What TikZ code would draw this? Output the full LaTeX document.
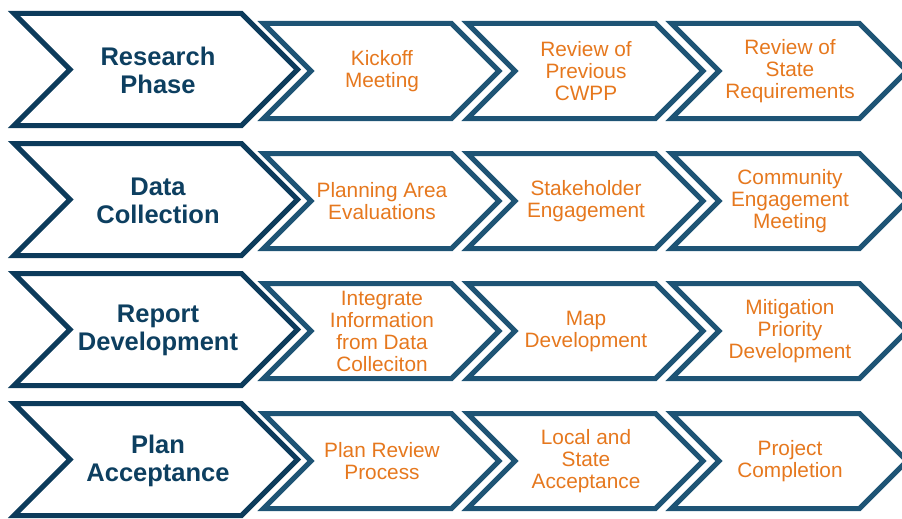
\documentclass[tikz,border=0pt]{standalone}
\usepackage{fontspec}
\setmainfont{Liberation Sans}
\definecolor{navyline}{HTML}{0C3B5B}
\definecolor{steelline}{HTML}{1E5475}
\definecolor{navytext}{HTML}{0D3F60}
\definecolor{orangetext}{HTML}{E6781E}
\tikzset{
  phasechev/.style={draw=navyline, line width=5pt, fill=white, line join=miter},
  stepchev/.style={draw=steelline, line width=5pt, fill=white, line join=miter},
  phaselabel/.style={align=center, text=navytext, font=\fontsize{25.5}{28}\selectfont\bfseries, inner sep=0pt},
  steplabel/.style={align=center, text=orangetext, font=\fontsize{20.8}{22}\selectfont, inner sep=0pt}
}
\begin{document}
\begin{tikzpicture}[x=1pt, y=-1pt]
\useasboundingbox (0,0) rectangle (902,519);
\clip (0,0) rectangle (902,519);
% chevron outlines, four rows
\foreach \r in {0,...,3} {
  \pgfmathsetmacro\cy{69.5+130*\r}
  \pgfmathsetmacro\sy{71+130*\r}
  \foreach \c in {0,1,2} {
    \pgfmathsetmacro\dx{204*\c}
    \draw[stepchev] (263.5+\dx,\sy-47.5) -- (451.5+\dx,\sy-47.5) -- (499+\dx,\sy)
      -- (451.5+\dx,\sy+47.5) -- (263.5+\dx,\sy+47.5) -- (311+\dx,\sy) -- cycle;
  }
  \draw[phasechev] (14,\cy-56) -- (241.5,\cy-56) -- (297.5,\cy)
    -- (241.5,\cy+56) -- (14,\cy+56) -- (70,\cy) -- cycle;
}
% phase labels
\node[phaselabel] (phase1) at (158,70.5) {Research\\Phase};
\node[phaselabel] (phase2) at (158,200.5) {Data\\Collection};
\node[phaselabel] (phase3) at (158,330.5) {Report\\Development};
\node[phaselabel] (phase4) at (158,460.5) {Plan\\Acceptance};
% step labels
\node[steplabel] (s11) at (382,71.5) {Kickoff\\Meeting};
\node[steplabel] (s12) at (586,71.5) {Review of\\Previous\\CWPP};
\node[steplabel] (s13) at (790,71.5) {Review of\\State\\Requirements};
\node[steplabel] (s21) at (382,201.5) {Planning Area\\Evaluations};
\node[steplabel] (s22) at (586,201.5) {Stakeholder\\Engagement};
\node[steplabel] (s23) at (790,201.5) {Community\\Engagement\\Meeting};
\node[steplabel] (s31) at (382,331.5) {Integrate\\Information\\from Data\\Colleciton};
\node[steplabel] (s32) at (586,331.5) {Map\\Development};
\node[steplabel] (s33) at (790,331.5) {Mitigation\\Priority\\Development};
\node[steplabel] (s41) at (382,461.5) {Plan Review\\Process};
\node[steplabel] (s42) at (586,461.5) {Local and\\State\\Acceptance};
\node[steplabel] (s43) at (790,461.5) {Project\\Completion};
\end{tikzpicture}
\end{document}
